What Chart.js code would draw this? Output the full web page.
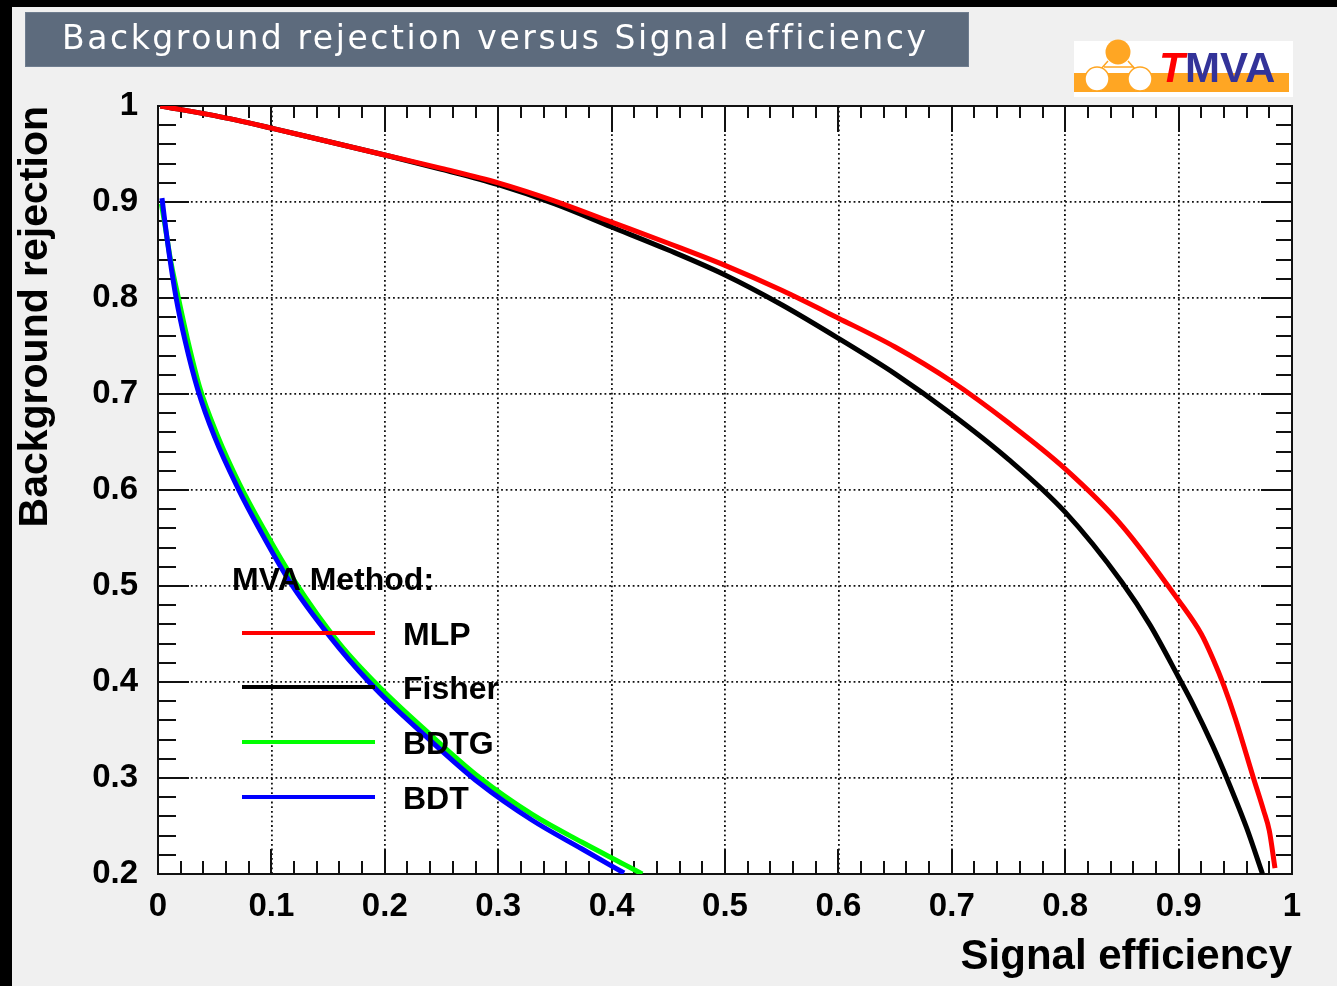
<!DOCTYPE html>
<html><head><meta charset="utf-8">
<script src="https://cdn.jsdelivr.net/npm/chart.js@4/dist/chart.umd.min.js"></script>
<style>html,body{margin:0;padding:0;background:#f0f0f0;overflow:hidden}canvas{display:block}</style>
</head><body>
<canvas id="c" width="1337" height="986"></canvas>
<script>
const titleText = 'Background rejection versus Signal efficiency';
const xAxisTitle = 'Signal efficiency';
const yAxisTitle = 'Background rejection';
const legendHeader = 'MVA Method:';
const methodNames = ['MLP', 'Fisher', 'BDTG', 'BDT'];
const methodColors = ['#ff0000', '#000000', '#00ff00', '#0000ff'];
const xTickLabels = ['0','0.1','0.2','0.3','0.4','0.5','0.6','0.7','0.8','0.9','1'];
const yTickLabels = ['0.2','0.3','0.4','0.5','0.6','0.7','0.8','0.9','1'];

const effMLP = [0.002, 0.05, 0.1, 0.15, 0.2, 0.25, 0.3, 0.35, 0.4, 0.45, 0.5, 0.55, 0.6, 0.65, 0.7, 0.75, 0.8, 0.85, 0.9, 0.92, 0.93, 0.94, 0.95, 0.966, 0.975, 0.98, 0.985];
const rejMLP = [1.0, 0.990, 0.977, 0.963, 0.949, 0.935, 0.920, 0.901, 0.879, 0.857, 0.834, 0.808, 0.779, 0.749, 0.713, 0.670, 0.622, 0.563, 0.485, 0.450, 0.425, 0.396, 0.362, 0.300, 0.266, 0.245, 0.206];

const effFisher = [0.002, 0.05, 0.1, 0.15, 0.2, 0.25, 0.3, 0.35, 0.4, 0.45, 0.5, 0.55, 0.6, 0.65, 0.7, 0.75, 0.8, 0.85, 0.875, 0.9, 0.913, 0.93, 0.9435, 0.96, 0.974];
const rejFisher = [1.0, 0.990, 0.977, 0.963, 0.949, 0.934, 0.918, 0.898, 0.874, 0.850, 0.824, 0.793, 0.758, 0.721, 0.679, 0.632, 0.577, 0.504, 0.459, 0.405, 0.376, 0.334, 0.297, 0.248, 0.200];

const effBDTG = [0.003, 0.006, 0.011, 0.018, 0.026, 0.037, 0.052, 0.072, 0.092, 0.12, 0.16, 0.195, 0.2365, 0.283, 0.33, 0.374, 0.411, 0.427];
const rejBDTG = [0.898, 0.877, 0.840, 0.800, 0.757, 0.706, 0.658, 0.606, 0.562, 0.506, 0.440, 0.395, 0.349, 0.301, 0.262, 0.233, 0.210, 0.200];

const effBDT = [0.0035, 0.006, 0.01, 0.016, 0.024, 0.035, 0.05, 0.07, 0.09, 0.117, 0.16, 0.195, 0.2365, 0.283, 0.33, 0.374, 0.411];
const rejBDT = [0.904, 0.880, 0.845, 0.800, 0.755, 0.705, 0.655, 0.603, 0.558, 0.503, 0.435, 0.389, 0.343, 0.295, 0.256, 0.226, 0.201];

const FONT = '"Liberation Sans", Arial, Helvetica, sans-serif';
const TITLE_FONT = '"DejaVu Sans", Verdana, sans-serif';

function mk(label, xs, ys, color, order) {
  return { label, data: xs.map((x, i) => ({ x, y: ys[i] })), borderColor: color, backgroundColor: color,
           borderWidth: 5, pointRadius: 0, fill: false, cubicInterpolationMode: 'monotone', order };
}

const bgPlugin = {
  id: 'bg',
  beforeDraw(chart) {
    const { ctx, chartArea: a } = chart;
    ctx.save();
    ctx.fillStyle = '#f0f0f0';
    ctx.fillRect(0, 0, chart.width, chart.height);
    ctx.fillStyle = '#000';
    ctx.fillRect(0, 0, chart.width, 7);
    ctx.fillRect(0, 0, 12, chart.height);
    ctx.fillStyle = '#ffffff';
    ctx.fillRect(a.left, a.top, a.right - a.left, a.bottom - a.top);
    // title box
    ctx.fillStyle = '#5D6B7D';
    ctx.fillRect(25, 12, 944, 55);
    ctx.strokeStyle = '#6f7d8f';
    ctx.lineWidth = 1;
    ctx.strokeRect(25.5, 12.5, 943, 54);
    ctx.font = '33px ' + TITLE_FONT;
    const w0 = ctx.measureText(titleText).width;
    const sp = Math.max(0, (866 - w0) / titleText.length);
    ctx.letterSpacing = sp.toFixed(2) + 'px';
    ctx.fillStyle = '#ffffff';
    ctx.textBaseline = 'alphabetic';
    ctx.textAlign = 'left';
    ctx.fillText(titleText, 62, 49);
    ctx.letterSpacing = '0px';
    // TMVA logo
    ctx.fillStyle = '#ffffff';
    ctx.fillRect(1074, 41, 219, 56);
    ctx.fillStyle = '#FFA623';
    ctx.fillRect(1074, 73, 215, 19);
    ctx.strokeStyle = '#FFA623';
    ctx.lineWidth = 1.5;
    ctx.beginPath();
    ctx.moveTo(1108, 61); ctx.lineTo(1100, 70);
    ctx.moveTo(1128, 61); ctx.lineTo(1136, 70);
    ctx.moveTo(1104, 67); ctx.lineTo(1134, 67);
    ctx.stroke();
    ctx.beginPath(); ctx.arc(1118, 52, 12.5, 0, Math.PI * 2); ctx.fillStyle = '#FFA623'; ctx.fill();
    ctx.fillStyle = '#ffffff';
    ctx.beginPath(); ctx.arc(1097, 79, 12, 0, Math.PI * 2); ctx.fill(); ctx.stroke();
    ctx.beginPath(); ctx.arc(1140, 79, 12, 0, Math.PI * 2); ctx.fill(); ctx.stroke();
    ctx.textBaseline = 'alphabetic';
    ctx.font = 'italic bold 42px ' + FONT;
    ctx.fillStyle = '#ff0000';
    ctx.fillText('T', 1159, 82);
    ctx.font = 'bold 42px ' + FONT;
    ctx.fillStyle = '#333399';
    ctx.fillText('MVA', 1185, 82);
    ctx.restore();
  }
};

const framePlugin = {
  id: 'frame',
  beforeDatasetsDraw(chart) {
    const { ctx, chartArea: a, scales: { x, y } } = chart;
    ctx.save();
    ctx.strokeStyle = '#111';
    ctx.lineWidth = 2;
    ctx.beginPath();
    for (let i = 0; i <= 50; i++) {
      const v = x.min + i * (x.max - x.min) / 50;
      const px = Math.round(x.getPixelForValue(v));
      const major = i % 5 === 0;
      const lb = major ? 25 : 13, lt = major ? 26 : 12;
      ctx.moveTo(px, a.bottom); ctx.lineTo(px, a.bottom - lb);
      ctx.moveTo(px, a.top); ctx.lineTo(px, a.top + lt);
    }
    for (let i = 0; i <= 40; i++) {
      const v = y.min + i * (y.max - y.min) / 40;
      const py = Math.round(y.getPixelForValue(v));
      const major = i % 5 === 0;
      const ll = major ? 31 : 18, lr = major ? 31 : 16;
      ctx.moveTo(a.left, py); ctx.lineTo(a.left + ll, py);
      ctx.moveTo(a.right, py); ctx.lineTo(a.right - lr, py);
    }
    ctx.stroke();
    ctx.strokeRect(a.left, a.top, a.right - a.left, a.bottom - a.top);
    ctx.restore();
  }
};

const legendPlugin = {
  id: 'mvaLegend',
  afterDatasetsDraw(chart) {
    const { ctx } = chart;
    ctx.save();
    ctx.font = 'bold 32px ' + FONT;
    ctx.fillStyle = '#000';
    ctx.textAlign = 'left';
    ctx.textBaseline = 'alphabetic';
    ctx.fillText(legendHeader, 232, 590);
    const ys = [633, 687, 742, 797];
    methodNames.forEach((name, i) => {
      const ds = chart.data.datasets.find(d => d.label === name);
      ctx.strokeStyle = ds.borderColor;
      ctx.lineWidth = 4;
      ctx.beginPath(); ctx.moveTo(242, ys[i]); ctx.lineTo(375, ys[i]); ctx.stroke();
      ctx.fillStyle = '#000';
      ctx.fillText(ds.label, 403, ys[i] + 12);
    });
    ctx.restore();
  }
};

const tickFont = { family: FONT, size: 33, weight: 'bold' };
const titleFont = { family: FONT, size: 42, weight: 'bold', lineHeight: 1.2 };

new Chart(document.getElementById('c'), {
  type: 'line',
  data: {
    datasets: [
      mk(methodNames[0], effMLP, rejMLP, methodColors[0], 1),
      mk(methodNames[1], effFisher, rejFisher, methodColors[1], 2),
      mk(methodNames[2], effBDTG, rejBDTG, methodColors[2], 4),
      mk(methodNames[3], effBDT, rejBDT, methodColors[3], 3)
    ]
  },
  options: {
    responsive: false,
    devicePixelRatio: 1,
    animation: false,
    events: [],
    layout: { padding: { top: 106, right: 45, left: 0, bottom: 0 } },
    plugins: { legend: { display: false }, title: { display: false }, tooltip: { enabled: false } },
    scales: {
      x: {
        type: 'linear', min: 0, max: 1,
        afterFit: s => { s.height = 112; },
        ticks: { stepSize: 0.1, padding: 13, color: '#000', font: tickFont, maxRotation: 0, autoSkip: false,
                 callback: (v, i) => xTickLabels[i] },
        grid: { color: '#111', lineWidth: 1.8, drawTicks: false, borderDash: [1.8, 2.9] },
        border: { display: false, dash: [1.8, 2.9] },
        title: { display: true, text: xAxisTitle, align: 'end', color: '#000', font: titleFont, padding: { top: 0, bottom: 3 } }
      },
      y: {
        type: 'linear', min: 0.2, max: 1,
        afterFit: s => { s.width = 158; },
        ticks: { stepSize: 0.1, padding: 20, color: '#000', font: tickFont, autoSkip: false,
                 callback: (v, i) => yTickLabels[i] },
        grid: { color: '#111', lineWidth: 1.8, drawTicks: false, borderDash: [1.8, 2.9] },
        border: { display: false, dash: [1.8, 2.9] },
        title: { display: true, text: yAxisTitle, align: 'end', color: '#000', font: { family: FONT, size: 41, weight: 'bold', lineHeight: 1.2 }, padding: { top: 11, bottom: 0 } }
      }
    }
  },
  plugins: [bgPlugin, framePlugin, legendPlugin]
});
</script>
</body></html>
